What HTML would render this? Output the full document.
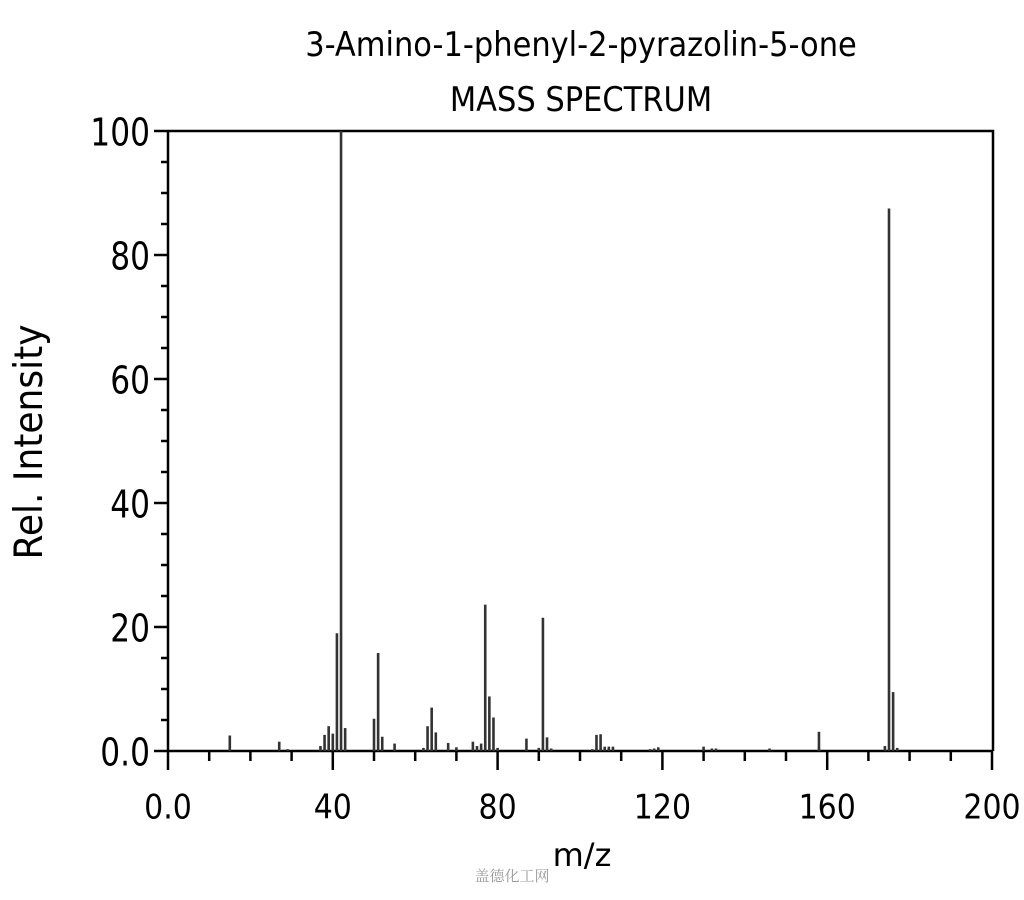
<!DOCTYPE html>
<html><head><meta charset="utf-8"><style>
html,body{margin:0;padding:0;background:#fff;width:1024px;height:900px;overflow:hidden}
svg{display:block}
text{font-family:"DejaVu Sans","Liberation Sans",sans-serif;fill:#000}
</style></head><body>
<svg width="1024" height="900" viewBox="0 0 1024 900">
<text x="581" y="56" font-size="30.5" text-anchor="middle" transform="translate(581,56) scale(1,1.1) translate(-581,-56)">3-Amino-1-phenyl-2-pyrazolin-5-one</text>
<text x="581" y="111" font-size="30.5" text-anchor="middle" transform="translate(581,111) scale(1,1.1) translate(-581,-111)">MASS SPECTRUM</text>
<text transform="translate(42,442) rotate(-90) scale(1,1.1)" font-size="36" text-anchor="middle">Rel. Intensity</text>
<text x="582" y="866" font-size="32" text-anchor="middle">m/z</text>
<text x="512" y="881" font-size="15" text-anchor="middle" style="fill:#999;font-family:'Noto Serif CJK SC',serif">盖德化工网</text>
<g stroke="#000" stroke-width="2.5" fill="none">
<path d="M168,131 H993 V751 M168,131 V751 H993"/>
</g>
<g id="yt" stroke="#000" stroke-width="2.5"></g>
<g id="xt" stroke="#000" stroke-width="2.5"></g>
<g font-size="34" text-anchor="end" id="yl"></g>
<g font-size="30" text-anchor="middle" id="xl"></g>
<g id="pk" stroke="#333" stroke-width="2.6"></g>
</svg>
<script>
var NS="http://www.w3.org/2000/svg";
function el(p,t,a,txt){var e=document.createElementNS(NS,t);for(var k in a)e.setAttribute(k,a[k]);if(txt!=null)e.textContent=txt;document.getElementById(p).appendChild(e);}
var X=function(m){return 168+m*4.12}, Y=function(v){return 751-v*6.2};
for(var v=0;v<=100;v+=5){var maj=v%20==0;el("yt","line",{x1:maj?154:161,x2:168,y1:Y(v),y2:Y(v)});
 if(maj)el("yl","text",{x:150,y:Y(v)+13,transform:"translate(150,"+Y(v)+") scale(0.92,1.12) translate(-150,"+(-Y(v))+")"},v==0?"0.0":String(v));}
for(var m=0;m<=200;m+=10){var maj=m%40==0;el("xt","line",{x1:X(m),x2:X(m),y1:751,y2:maj?770:761});
 if(maj)el("xl","text",{x:X(m),y:817,transform:"translate("+X(m)+",805) scale(1,1.12) translate("+(-X(m))+",-805)"},m==0?"0.0":String(m));}
var P=[[15,2.5],[27,1.5],[29,0.3],[37,0.8],[38,2.6],[39,4],[40,2.8],[41,19],[42,100],[43,3.7],[50,5.2],[51,15.8],[52,2.3],[55,1.2],[62,0.5],[63,4],[64,7],[65,3],[68,1.3],[70,0.6],[74,1.5],[75,0.8],[76,1.2],[77,23.6],[78,8.8],[79,5.4],[80,0.5],[87,2],[90,0.5],[91,21.5],[92,2.2],[93,0.4],[103,0.3],[104,2.6],[105,2.7],[106,0.7],[107,0.7],[108,0.7],[117,0.3],[118,0.4],[119,0.6],[130,0.7],[132,0.4],[133,0.4],[146,0.4],[158,3.1],[174,0.8],[175,87.5],[176,9.5],[177,0.5]];
P.forEach(function(p){el("pk","line",{x1:X(p[0]),x2:X(p[0]),y1:751,y2:Y(p[1])});});
</script>
</body></html>
